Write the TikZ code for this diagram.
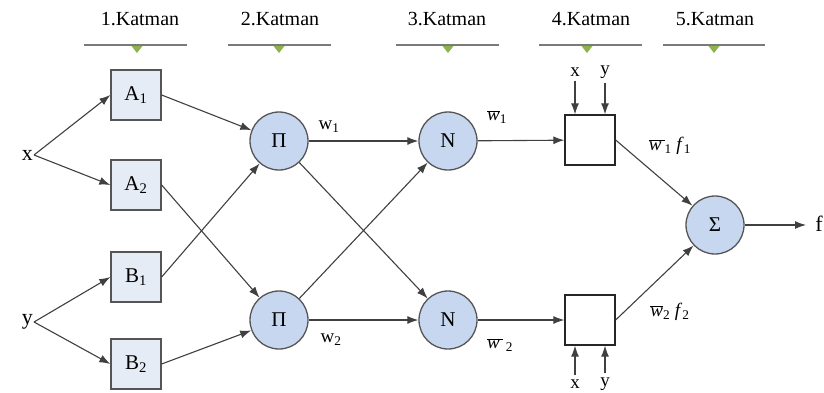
\documentclass[tikz,border=0pt]{standalone}
\usepackage{fontspec}
\setmainfont{Liberation Serif}
\usetikzlibrary{arrows.meta}
\definecolor{boxfill}{HTML}{E6ECF5}
\definecolor{circfill}{HTML}{C6D7EF}
\definecolor{edge}{HTML}{555555}
\definecolor{hdrline}{HTML}{7A7A7A}
\definecolor{tri}{HTML}{8DB34C}
\begin{document}
\begin{tikzpicture}[x=1pt,y=-1pt,
  font=\fontsize{19}{21}\selectfont,
  fuzzybox/.style={draw=edge,line width=1.3pt,fill=boxfill,minimum size=50pt,inner sep=0pt,font=\fontsize{21}{23}\selectfont},
  plainbox/.style={draw=black!85,line width=1.3pt,fill=white,minimum size=50pt,inner sep=0pt},
  neuron/.style={circle,draw=edge,line width=1.3pt,fill=circfill,minimum size=58pt,inner sep=0pt,font=\fontsize{21}{23}\selectfont},
  conn/.style={draw=black!75,line width=1.1pt,-{Latex[length=11pt,width=8pt]}},
  hdr/.style={draw=hdrline,line width=1.8pt},
  lbl/.style={inner sep=1pt},
  hdrlbl/.style={inner sep=1pt,font=\fontsize{20}{22}\selectfont},
  biglbl/.style={inner sep=1pt,font=\fontsize{22}{24}\selectfont}]
\useasboundingbox (0,0) rectangle (824,392);
% headers
\foreach \n/\cx/\xa/\xb/\tx in {1/140/84/187/137, 2/280/228/331/279, 3/447/396/499/448, 4/591/539/642/587, 5/715/663/765/714}{
  \node[hdrlbl] (h\n) at (\cx,19) {\n.Katman};
  \coordinate (hl\n) at (\xa,45);
  \coordinate (hr\n) at (\xb,45);
  \draw[hdr] (hl\n) -- (hr\n);
  \fill[tri] (\tx-5.5,46) -- (\tx+5.5,46) -- (\tx,53) -- cycle;
}
% inputs
\node[biglbl,anchor=east] (x) at (34,155) {x};
\node[biglbl,anchor=east] (y) at (34,322) {y};
% layer 1
\node[fuzzybox] (A1) at (136,95) {A\textsubscript{1}};
\node[fuzzybox] (A2) at (136,185) {A\textsubscript{2}};
\node[fuzzybox] (B1) at (136,277) {B\textsubscript{1}};
\node[fuzzybox] (B2) at (136,364) {B\textsubscript{2}};
% layer 2
\node[neuron] (P1) at (279,141) {Π};
\node[neuron] (P2) at (279,320) {Π};
% layer 3
\node[neuron] (N1) at (448,141) {N};
\node[neuron] (N2) at (448,320) {N};
% layer 4
\node[plainbox] (D1) at (590,140) {};
\node[plainbox] (D2) at (590,320) {};
% layer 5
\node[neuron] (S) at (715,225) {Σ};
\node[biglbl] (f) at (819,224) {f};
\coordinate (fend) at (806,225);
% free ends
\node[lbl] (x4a) at (575,72) {x};
\node[lbl] (y4a) at (605,72) {y};
\node[lbl] (x4b) at (575,384) {x};
\node[lbl] (y4b) at (605,384) {y};
% labels
\node[lbl] (w1) at (329,127) {w\textsubscript{1}};
\node[lbl] (w2) at (331,340) {w\textsubscript{2}};
\node[lbl] (nw1) at (497,117) {$\overline{\textit{w}}$\textsubscript{1}};
\node[lbl] (nw2) at (500,345) {$\overline{\textit{w}\,}$\,\textsubscript{2}};
\node[lbl] (f1) at (670,146) {$\overline{\textit{w}\,}$\textsubscript{1} \textit{f}\textsubscript{1}};
\node[lbl] (f2) at (670,312) {$\overline{\textit{w}}$\textsubscript{2} \textit{f}\textsubscript{2}};
% connectors
\draw[conn] (x.east) -- (A1.west);
\draw[conn] (x.east) -- (A2.west);
\draw[conn] (y.east) -- (B1.west);
\draw[conn] (y.east) -- (B2.west);
\draw[conn] (A1.east) -- (P1);
\draw[conn] (B1.east) -- (P1);
\draw[conn] (A2.east) -- (P2);
\draw[conn] (B2.east) -- (P2);
\draw[conn] (P1) -- (N1);
\draw[conn] (P1) -- (N2);
\draw[conn] (P2) -- (N1);
\draw[conn] (P2) -- (N2);
\draw[conn] (N1) -- (D1);
\draw[conn] (N2) -- (D2);
\draw[conn] (D1.east) -- (S);
\draw[conn] (D2.east) -- (S);
\draw[conn] (S.east) -- (fend);
\draw[conn] ([yshift=-3pt]x4a.south) -- (D1.north -| x4a);
\draw[conn] ([yshift=-3pt]y4a.south) -- (D1.north -| y4a);
\draw[conn] ([yshift=3pt]x4b.north) -- (D2.south -| x4b);
\draw[conn] ([yshift=3pt]y4b.north) -- (D2.south -| y4b);
\end{tikzpicture}
\end{document}
